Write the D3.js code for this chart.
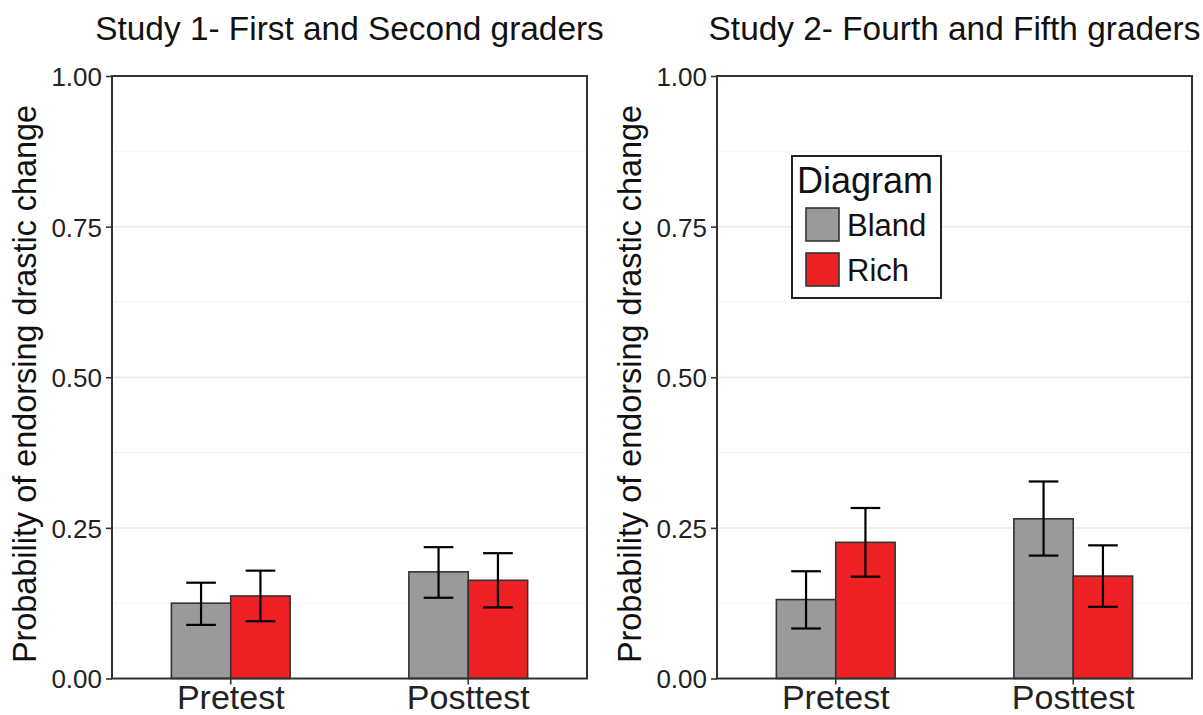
<!DOCTYPE html>
<html>
<head>
<meta charset="utf-8">
<script src="https://cdn.jsdelivr.net/npm/d3@7"></script>
<style>
  body { margin: 0; background: #fff; }
  svg { font-family: "Liberation Sans", Arial, Helvetica, sans-serif; }
</style>
</head>
<body>
<svg id="mainSVG" width="1203" height="715"></svg>
<script>
var $svg = d3.select("#mainSVG");

// data
var phases = ['Pretest', 'Posttest'];
var diagrams = ['Bland', 'Rich'];
var studyTitles = ['Study 1- First and Second graders', 'Study 2- Fourth and Fifth graders'];
var yTicks = [0, 0.25, 0.5, 0.75, 1];
var yMinor = [0.125, 0.375, 0.625, 0.875];

var s1Bland = [0.125, 0.177], s1BlandLo = [0.089, 0.134], s1BlandHi = [0.159, 0.218];
var s1Rich  = [0.137, 0.163], s1RichLo  = [0.095, 0.118], s1RichHi  = [0.179, 0.208];
var s2Bland = [0.131, 0.265], s2BlandLo = [0.083, 0.204], s2BlandHi = [0.178, 0.327];
var s2Rich  = [0.226, 0.170], s2RichLo  = [0.169, 0.119], s2RichHi  = [0.283, 0.221];

var fillColors = ['#9a9a9a', '#ee2224'];

// layout
var panelX = [112, 717];
var panelW = 475;
var plotTop = 76, plotBottom = 678.5;

var y = d3.scaleLinear().domain([0, 1]).range([plotBottom, plotTop]);
var x = d3.scaleBand().domain(phases).range([0, panelW]).paddingInner(0.5).paddingOuter(0.25);
var xSub = d3.scaleBand().domain(diagrams).range([0, x.bandwidth()]);
var color = d3.scaleOrdinal().domain(diagrams).range(fillColors);

function buildRows(bland, blandLo, blandHi, rich, richLo, richHi){
    var rows = [];
    phases.forEach((p, i) => {
        rows.push({phase: p, diagram: 'Bland', v: bland[i], lo: blandLo[i], hi: blandHi[i]});
        rows.push({phase: p, diagram: 'Rich', v: rich[i], lo: richLo[i], hi: richHi[i]});
    });
    return rows;
}

var studies = [
    buildRows(s1Bland, s1BlandLo, s1BlandHi, s1Rich, s1RichLo, s1RichHi),
    buildRows(s2Bland, s2BlandLo, s2BlandHi, s2Rich, s2RichLo, s2RichHi)
];

studies.forEach((rows, k) => {
    let $g = $svg.append('g')
        .attr('transform', `translate(${panelX[k]} 0)`);

    // grid lines
    $g.append('g').selectAll('line').data(yMinor).enter().append('line')
        .attr('x1', 0).attr('x2', panelW)
        .attr('y1', d => y(d)).attr('y2', d => y(d))
        .attr('stroke', '#f3f3f3').attr('stroke-width', 1);
    $g.append('g').selectAll('line').data(yTicks.slice(1, -1)).enter().append('line')
        .attr('x1', 0).attr('x2', panelW)
        .attr('y1', d => y(d)).attr('y2', d => y(d))
        .attr('stroke', '#ebebeb').attr('stroke-width', 1.5);

    // bars
    $g.append('g').selectAll('rect').data(rows).enter().append('rect')
        .attr('x', d => x(d.phase) + xSub(d.diagram))
        .attr('y', d => y(d.v))
        .attr('width', xSub.bandwidth())
        .attr('height', d => y(0) - y(d.v))
        .attr('fill', d => color(d.diagram))
        .attr('stroke', '#333').attr('stroke-width', 1.6);

    // error bars
    let capW = xSub.bandwidth() / 2;
    let $err = $g.append('g').selectAll('g').data(rows).enter().append('g')
        .attr('stroke', '#000').attr('stroke-width', 2.2);
    $err.append('line')
        .attr('x1', d => x(d.phase) + xSub(d.diagram) + xSub.bandwidth() / 2)
        .attr('x2', d => x(d.phase) + xSub(d.diagram) + xSub.bandwidth() / 2)
        .attr('y1', d => y(d.lo)).attr('y2', d => y(d.hi));
    ['lo', 'hi'].forEach(key => {
        $err.append('line')
            .attr('x1', d => x(d.phase) + xSub(d.diagram) + xSub.bandwidth() / 2 - capW / 2)
            .attr('x2', d => x(d.phase) + xSub(d.diagram) + xSub.bandwidth() / 2 + capW / 2)
            .attr('y1', d => y(d[key])).attr('y2', d => y(d[key]));
    });

    // panel border
    $g.append('rect')
        .attr('x', 0).attr('y', plotTop)
        .attr('width', panelW).attr('height', plotBottom - plotTop)
        .attr('fill', 'none').attr('stroke', '#333').attr('stroke-width', 2);

    // axes
    let $yAxis = $g.append('g')
        .call(d3.axisLeft(y).tickValues(yTicks).tickFormat(d3.format('.2f')).tickSize(6).tickPadding(4));
    $yAxis.select('.domain').remove();
    $yAxis.selectAll('line').attr('stroke', '#333').attr('stroke-width', 1.6);
    $yAxis.selectAll('text').attr('font-size', 26).attr('fill', '#222').attr('dy', '0.36em');

    let $xAxis = $g.append('g')
        .attr('transform', `translate(0 ${plotBottom})`)
        .call(d3.axisBottom(x).tickSize(6).tickPadding(0));
    $xAxis.select('.domain').remove();
    $xAxis.selectAll('line').attr('stroke', '#333').attr('stroke-width', 1.6);
    $xAxis.selectAll('text').attr('font-size', 34).attr('fill', '#222').attr('dy', '0.71em');

    // titles
    $g.append('text')
        .attr('x', panelW / 2).attr('y', 40)
        .attr('text-anchor', 'middle')
        .attr('font-size', 33.4).attr('fill', '#111')
        .text(studyTitles[k]);

    $g.append('text')
        .attr('transform', `translate(-76 384) rotate(-90)`)
        .attr('text-anchor', 'middle')
        .attr('font-size', 32.4).attr('fill', '#111')
        .text('Probability of endorsing drastic change');
});

// legend, inside the second panel
var $legend = $svg.append('g').attr('transform', 'translate(792 156)');
$legend.append('rect')
    .attr('width', 149).attr('height', 142)
    .attr('fill', '#fff').attr('stroke', '#222').attr('stroke-width', 2);
$legend.append('text')
    .attr('x', 5).attr('y', 37)
    .attr('font-size', 36).attr('fill', '#111')
    .text('Diagram');
var $keys = $legend.selectAll('g.key').data(diagrams).enter().append('g')
    .attr('class', 'key')
    .attr('transform', (d, i) => `translate(14 ${52 + i * 45})`);
$keys.append('rect')
    .attr('width', 33).attr('height', 33)
    .attr('fill', d => color(d))
    .attr('stroke', '#333').attr('stroke-width', 1.6);
$keys.append('text')
    .attr('x', 41).attr('y', 28)
    .attr('font-size', 31).attr('fill', '#111')
    .text(d => d);
</script>
</body>
</html>
